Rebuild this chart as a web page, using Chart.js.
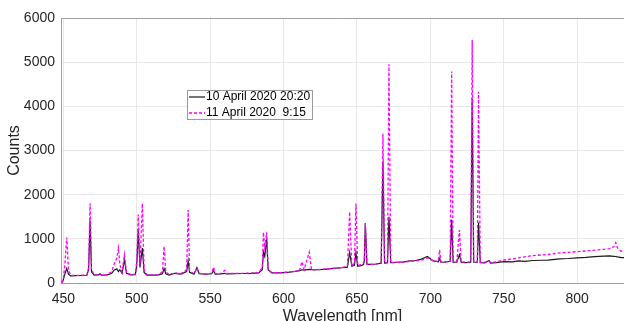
<!DOCTYPE html>
<html>
<head>
<meta charset="utf-8">
<script src="https://cdn.jsdelivr.net/npm/chart.js@4/dist/chart.umd.min.js"></script>
<style>
  html, body { margin: 0; padding: 0; overflow: hidden; background: #fff; }
  #wrap { width: 624px; height: 330px; position: relative; }
</style>
</head>
<body>
<div id="wrap"><canvas id="spec"></canvas></div>
<script>
// wavelengths (nm), shared by both spectra
wavelengths = [449, 450, 451, 452.3, 453.5, 455, 458, 462, 466, 467.2, 468.2, 469.2, 471, 474, 475, 476, 480, 483, 484.5, 486.4, 487.5, 488.5, 490, 491.6, 493, 496, 499, 500, 501, 502.2, 503.8, 505, 507, 511, 515, 517.5, 518.6, 519.8, 522, 526, 530, 534, 535, 536, 539, 541, 542.5, 547, 551, 552.3, 553.5, 557, 560, 561, 566, 572, 578, 583, 585.5, 586.3, 587.2, 588.5, 589.5, 592, 598, 604, 608, 611, 612.5, 614, 617.5, 619, 623, 628, 634, 640, 643.5, 645, 646.5, 648.3, 649.3, 650.5, 653.5, 654.5, 655, 655.7, 656.8, 660, 663, 666.5, 667.7, 668.8, 670.8, 671.8, 673, 677, 682, 686, 690, 694, 698, 702, 705.5, 706.3, 707.2, 710, 713.5, 714.5, 715.5, 718, 719.8, 721, 724, 727.5, 728.5, 729.5, 732, 732.8, 734, 737, 740, 741, 745, 750, 756, 760, 764, 770, 776, 780, 788, 794, 800, 806, 812, 818, 822, 825, 826.3, 827.5, 830, 832]

april10 = [0, 80, 200, 330, 200, 160, 165, 170, 175, 300, 1420, 250, 180, 185, 210, 180, 185, 220, 290, 320, 260, 300, 220, 530, 220, 185, 190, 400, 1200, 350, 790, 240, 180, 180, 185, 210, 330, 210, 180, 220, 200, 260, 500, 240, 200, 350, 210, 200, 210, 280, 200, 205, 220, 205, 210, 215, 220, 230, 300, 700, 600, 1000, 300, 230, 230, 245, 260, 280, 300, 290, 310, 300, 300, 310, 330, 345, 360, 690, 380, 400, 690, 380, 400, 420, 500, 1360, 420, 420, 430, 450, 2750, 450, 460, 1500, 460, 470, 480, 500, 510, 540, 600, 500, 480, 560, 470, 470, 490, 1430, 470, 470, 640, 470, 460, 470, 4180, 470, 470, 1370, 460, 455, 510, 450, 460, 485, 480, 500, 490, 510, 515, 520, 545, 555, 570, 580, 595, 610, 615, 605, 600, 590, 575, 575]

april11 = [0, 90, 400, 1030, 300, 170, 170, 175, 180, 350, 1800, 300, 185, 185, 200, 180, 190, 260, 420, 560, 790, 420, 240, 640, 240, 190, 200, 500, 1550, 400, 1800, 300, 190, 180, 190, 260, 830, 250, 190, 230, 210, 300, 1650, 280, 210, 340, 220, 205, 220, 360, 210, 210, 290, 215, 215, 220, 225, 235, 350, 1150, 800, 1150, 300, 235, 235, 250, 270, 300, 480, 300, 700, 300, 300, 320, 330, 350, 380, 1610, 380, 450, 1800, 400, 420, 470, 500, 1350, 420, 420, 430, 450, 3380, 450, 460, 4950, 460, 465, 470, 490, 500, 520, 570, 500, 490, 750, 480, 480, 490, 4790, 480, 480, 1200, 480, 470, 480, 5500, 470, 480, 4330, 470, 470, 490, 470, 480, 520, 545, 570, 590, 620, 636, 645, 680, 695, 710, 725, 745, 760, 780, 820, 915, 790, 720, 730]

xTicks = [450, 500, 550, 600, 650, 700, 750, 800]
yTicks = [0, 1000, 2000, 3000, 4000, 5000, 6000]
seriesNames = ["10 April 2020 20:20", "11 April 2020  9:15"]

function toPoints(vals){
  pts = []
  for(let i=0; i<wavelengths.length; i++){
    pts.push({x: wavelengths[i], y: vals[i]})
  }
  return pts
}

fontFam = "'Liberation Sans', Arial, Helvetica, sans-serif"
axisGrey = "#a0a0a0"
textCol = "#262626"

// top border of the box and the floating legend
boxPlugin = {
  id: "boxPlugin",
  afterDraw: (chart)=>{
    ctx = chart.ctx
    a = chart.chartArea
    ctx.save()
    ctx.strokeStyle = axisGrey
    ctx.lineWidth = 1
    ctx.beginPath()
    ctx.moveTo(a.left, a.top + 0.5)
    ctx.lineTo(a.right, a.top + 0.5)
    ctx.stroke()

    // legend
    lx = 187, ly = 90, lw = 125, lh = 29
    ctx.fillStyle = "#fff"
    ctx.fillRect(lx, ly, lw, lh)
    ctx.strokeStyle = "#9a9a9a"
    ctx.strokeRect(lx + 0.5, ly + 0.5, lw, lh)
    ctx.font = "12px " + fontFam
    ctx.textBaseline = "middle"
    ds = chart.data.datasets
    for(let i=0; i<ds.length; i++){
      yy = ly + 7 + i*16
      ctx.strokeStyle = ds[i].borderColor
      ctx.lineWidth = ds[i].borderWidth
      ctx.setLineDash(ds[i].borderDash || [])
      ctx.beginPath()
      ctx.moveTo(lx + 2, yy)
      ctx.lineTo(lx + 18, yy)
      ctx.stroke()
      ctx.setLineDash([])
      ctx.fillStyle = "#000"
      ctx.fillText(ds[i].label, lx + 19, yy)
    }
    ctx.restore()
  }
}

chart = new Chart(document.getElementById("spec"), {
  type: "line",
  data: {
    datasets: [
      {
        label: seriesNames[0],
        data: toPoints(april10),
        borderColor: "#1a1a1a",
        borderWidth: 1.2,
        pointRadius: 0,
        fill: false,
        tension: 0,
        order: 1
      },
      {
        label: seriesNames[1],
        data: toPoints(april11),
        borderColor: "#ff00ff",
        borderWidth: 1.3,
        borderDash: [3, 2],
        pointRadius: 0,
        fill: false,
        tension: 0,
        order: 0
      }
    ]
  },
  options: {
    responsive: true,
    maintainAspectRatio: false,
    animation: false,
    layout: { padding: { top: 18, right: 0, left: 0, bottom: 0 } },
    plugins: {
      legend: { display: false },
      tooltip: { enabled: false }
    },
    scales: {
      x: {
        type: "linear",
        min: 448.4,
        max: 831.9,
        afterBuildTicks: (s)=>{ s.ticks = xTicks.map(v=>({value: v})) },
        afterFit: (s)=>{ s.height = 47 },
        grid: { color: "#e8e8e8", drawTicks: false },
        border: { color: axisGrey },
        ticks: {
          padding: 8,
          color: textCol,
          font: { family: fontFam, size: 14 },
          maxRotation: 0,
          callback: (v)=>String(v)
        },
        title: {
          display: true,
          text: "Wavelength [nm]",
          color: textCol,
          font: { family: fontFam, size: 16 },
          padding: { top: 0, bottom: 4 }
        }
      },
      y: {
        min: 0,
        max: 6000,
        afterBuildTicks: (s)=>{ s.ticks = yTicks.map(v=>({value: v})) },
        afterFit: (s)=>{ s.width = 61 },
        grid: { color: "#e8e8e8", drawTicks: false },
        border: { color: axisGrey },
        ticks: {
          padding: 6,
          color: textCol,
          font: { family: fontFam, size: 14 },
          callback: (v)=>String(v)
        },
        title: {
          display: true,
          text: "Counts",
          color: textCol,
          font: { family: fontFam, size: 16 },
          padding: { top: 5, bottom: 0 }
        }
      }
    }
  },
  plugins: [boxPlugin]
})
</script>
</body>
</html>
